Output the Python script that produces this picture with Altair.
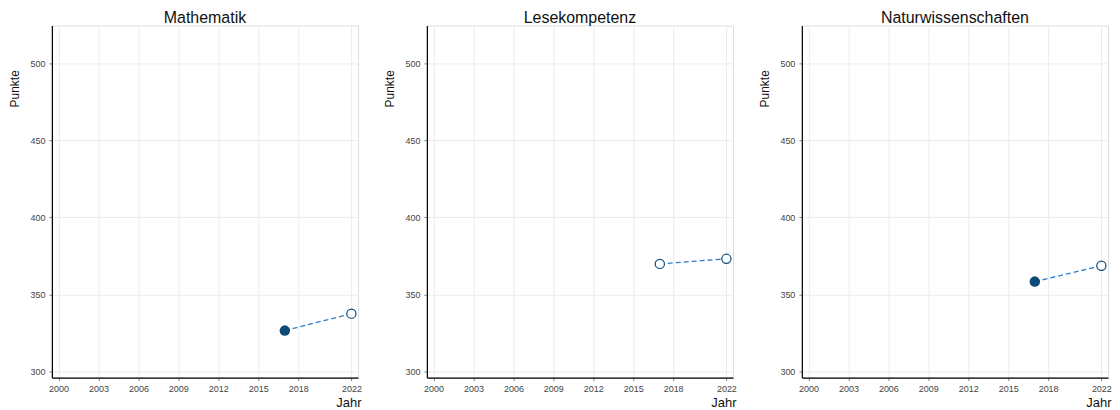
import altair as alt
import pandas as pd

subjects = ["Mathematik", "Lesekompetenz", "Naturwissenschaften"]
years = [2017, 2022]
math_scores = [326.5, 337.5]
read_scores = [369.8, 373.1]
sci_scores = [358.3, 368.6]
math_filled = [True, False]
read_filled = [False, False]
sci_filled = [True, False]
x_ticks = [2000, 2003, 2006, 2009, 2012, 2015, 2018, 2022]
y_ticks = [300, 350, 400, 450, 500]

series = {
    "Mathematik": (math_scores, math_filled),
    "Lesekompetenz": (read_scores, read_filled),
    "Naturwissenschaften": (sci_scores, sci_filled),
}

FONT = "Liberation Sans"
W, H = 307, 353
DARK = "#0e4a78"
LINE = "#2f7fc8"


def panel(name):
    vals, filled = series[name]
    df = pd.DataFrame({"Jahr": years, "Punkte": vals, "filled": filled})
    x = alt.X("Jahr:Q",
              scale=alt.Scale(domain=[1999.5, 2022.5], nice=False, zero=False),
              axis=alt.Axis(values=x_ticks, format="d", title="Jahr",
                            titleAnchor="end", titleAlign="right",
                            titleX=W + 3, titleY=25, titleBaseline="middle",
                            titleFontSize=13, titleFontWeight="normal",
                            titleColor="#111", titleFont=FONT,
                            labelFont=FONT, labelFontSize=9, labelColor="#444",
                            labelPadding=4, tickSize=3, tickColor="#888",
                            domainColor="#000", domainWidth=1.2,
                            gridColor="#ececec", labelFlush=False))
    y = alt.Y("Punkte:Q",
              scale=alt.Scale(domain=[296, 524.6], nice=False, zero=False),
              axis=alt.Axis(values=y_ticks, title="Punkte",
                            titleAngle=270, titleAlign="center", titleBaseline="middle",
                            titleX=-37, titleY=63,
                            titleFontSize=12, titleFontWeight="normal",
                            titleColor="#111", titleFont=FONT,
                            labelFont=FONT, labelFontSize=9, labelColor="#444",
                            labelPadding=4, tickSize=3, tickColor="#888",
                            domainColor="#000", domainWidth=1.2,
                            gridColor="#ececec"))
    base = alt.Chart(df)
    line = base.mark_line(strokeDash=[5, 3], strokeWidth=1.3, color=LINE).encode(x=x, y=y)
    pts_filled = base.transform_filter("datum.filled").mark_point(
        filled=True, size=110, color=DARK, opacity=1).encode(x=x, y=y)
    pts_open = base.transform_filter("!datum.filled").mark_point(
        filled=True, size=85, fill="white", stroke=DARK, strokeWidth=1.2, opacity=1).encode(x=x, y=y)
    return alt.layer(line, pts_filled, pts_open).properties(
        width=W, height=H,
        title=alt.TitleParams(name, fontSize=16, font=FONT, fontWeight="normal",
                              color="#111", offset=0))


chart = alt.hconcat(*[panel(s) for s in subjects], spacing=21).configure_view(
    fill="#fbfbfb", stroke=None
).configure(background="white", padding={"left": 0, "top": 0, "right": 0, "bottom": 0})

chart.save("out.html", embed_options={"renderer": "svg", "actions": False})
